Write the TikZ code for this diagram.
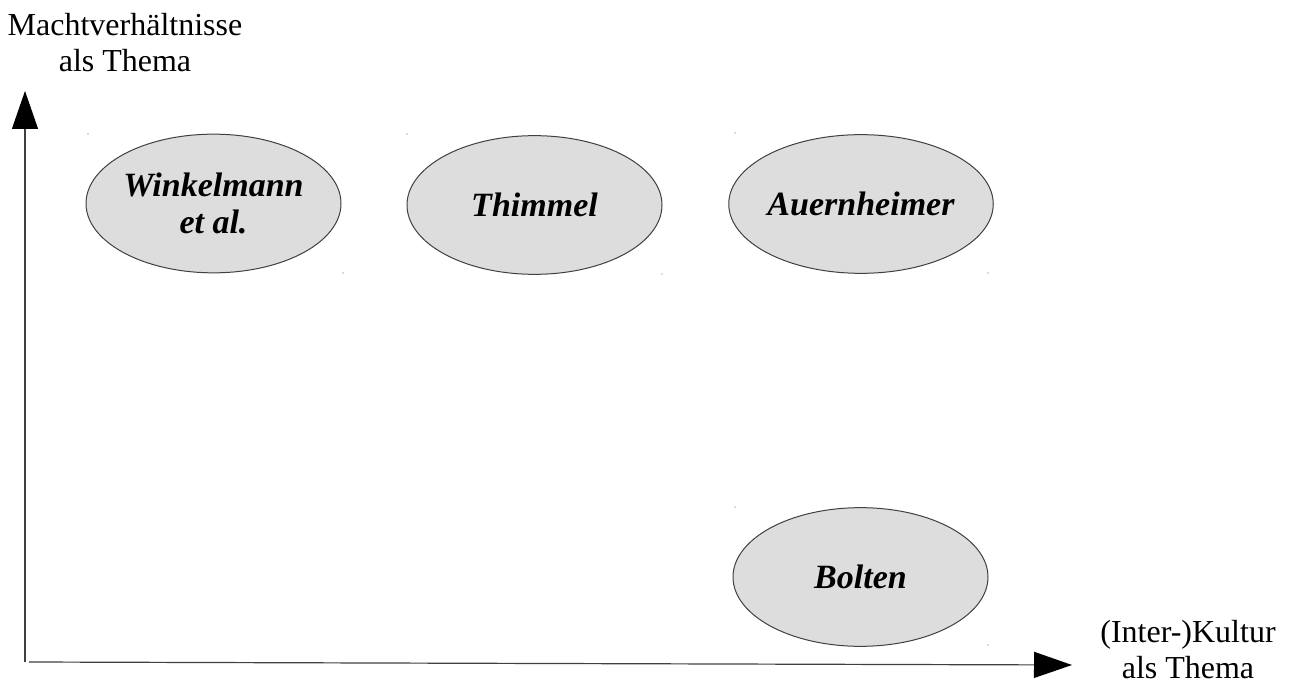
\documentclass[tikz,border=0pt]{standalone}
\usepackage{fontspec}
\setmainfont{Liberation Serif}
\usetikzlibrary{shapes.geometric,arrows.meta}
\definecolor{ellfill}{HTML}{DDDDDD}
\definecolor{ellline}{HTML}{404040}
\begin{document}
\begin{tikzpicture}[x=0.75pt,y=-0.75pt,
  author/.style={ellipse, draw=ellline, line width=0.75pt, fill=ellfill,
    minimum width=191.25pt, minimum height=104pt, inner sep=0pt, align=center,
    font=\fontsize{25.5}{28}\selectfont\bfseries\itshape},
  axislabel/.style={align=center, inner sep=0pt, font=\fontsize{24}{27}\selectfont},
  axis/.style={draw=black!75, line width=0.9pt, -{Triangle[length=28.5pt,width=19.5pt,color=black]}},
  corner/.style={fill=black!60, circle, inner sep=0pt, minimum size=0.9pt}]
\useasboundingbox (0,0) rectangle (1289,684);
% axes
\coordinate (yorigin) at (25,662);
\coordinate (ytip) at (25,91);
\coordinate (xorigin) at (29,662);
\coordinate (xtip) at (1072,665);
\draw[axis] (yorigin) -- (ytip);
\draw[axis] (xorigin) -- (xtip);
% axis labels (anchor base = baseline of the last line)
\node[axislabel, anchor=base] (ylab) at (125,72) {Machtverhältnisse\\als Thema};
\node[axislabel, anchor=base] (xlab) at (1188,678) {(Inter-)Kultur\\als Thema};
% authors
\node[author] (winkelmann) at (213.5,203.5) {Winkelmann\\et al.};
\node[author] (thimmel) at (534.5,205) {Thimmel};
\node[author] (auernheimer) at (861,204) {Auernheimer};
\node[author] (bolten) at (860.5,577) {Bolten};
% bounding-box corner marks
\node[corner] (c1) at (88,134) {};
\node[corner] (c2) at (343,273) {};
\node[corner] (c3) at (407,134) {};
\node[corner] (c4) at (662,274) {};
\node[corner] (c5) at (735,133) {};
\node[corner] (c6) at (988,273) {};
\node[corner] (c7) at (735,507) {};
\node[corner] (c8) at (988,645) {};
\end{tikzpicture}
\end{document}
